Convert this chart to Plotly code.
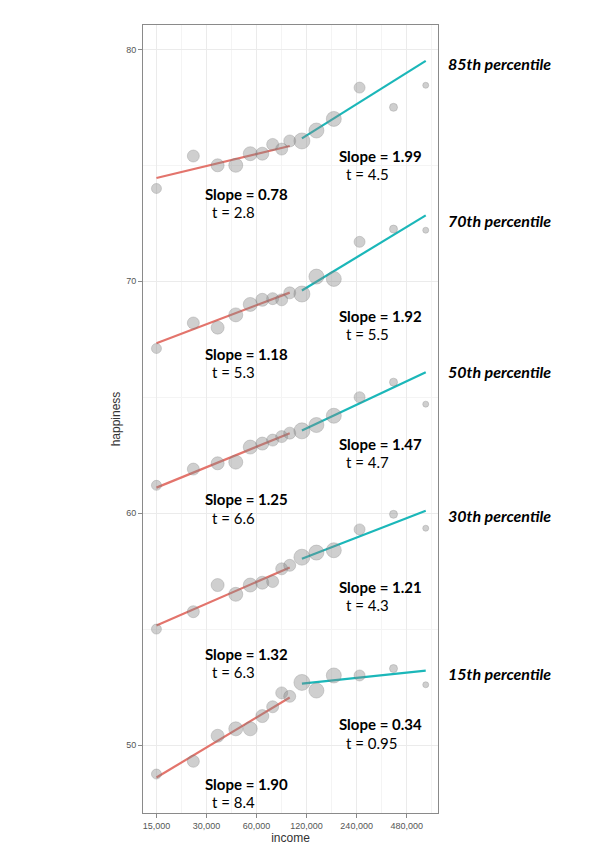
import numpy as np
import plotly.graph_objects as go

# income bins (log scale) and relative number of people per bin
income = [15000, 25000, 35000, 45000, 55000, 65000, 75000, 85000, 95000,
          112500, 137500, 175000, 250000, 400000, 625000]
bin_size = [10, 12, 13, 14, 14, 13, 12, 12, 12, 16, 15, 15, 11, 8, 6]

percentiles = ["85th", "70th", "50th", "30th", "15th"]

# happiness at each income bin, by percentile
happy_85 = [74.0, 75.4, 75.0, 75.0, 75.5, 75.5, 75.9, 75.7, 76.05, 76.05, 76.5, 77.0, 78.35, 77.5, 78.45]
happy_70 = [67.1, 68.2, 68.0, 68.55, 69.0, 69.2, 69.25, 69.2, 69.5, 69.45, 70.2, 70.1, 71.7, 72.25, 72.2]
happy_50 = [61.2, 61.9, 62.15, 62.2, 62.85, 63.0, 63.15, 63.3, 63.45, 63.55, 63.8, 64.2, 65.0, 65.65, 64.7]
happy_30 = [55.0, 55.75, 56.9, 56.5, 56.9, 57.0, 57.05, 57.6, 57.75, 58.1, 58.3, 58.4, 59.3, 59.95, 59.35]
happy_15 = [48.75, 49.3, 50.4, 50.7, 50.7, 51.25, 51.65, 52.25, 52.1, 52.7, 52.35, 53.0, 53.0, 53.3, 52.6]
happy = [happy_85, happy_70, happy_50, happy_30, happy_15]

# fitted segments: below and above ~$100k
low_x = [15000, 95000]
high_x = [112500, 625000]
low_fit = [[74.45, 75.83], [67.33, 69.51], [61.1, 63.45], [55.16, 57.66], [48.6, 52.05]]
high_fit = [[76.16, 79.5], [69.6, 72.84], [63.56, 66.08], [58.03, 60.1], [52.65, 53.21]]

low_slope = ["0.78", "1.18", "1.25", "1.32", "1.90"]
low_t = ["2.8", "5.3", "6.6", "6.3", "8.4"]
high_slope = ["1.99", "1.92", "1.47", "1.21", "0.34"]
high_t = ["4.5", "5.5", "4.7", "4.3", "0.95"]

tick_vals = [15000, 30000, 60000, 120000, 240000, 480000]
tick_text = ["15,000", "30,000", "60,000", "120,000", "240,000", "480,000"]

RED = "#E3746C"
TEAL = "#1BB7B9"

fig = go.Figure()

for i in range(len(percentiles)):
    fig.add_trace(go.Scatter(x=low_x, y=low_fit[i], mode="lines",
                             line=dict(color=RED, width=2.2), showlegend=False))
    fig.add_trace(go.Scatter(x=high_x, y=high_fit[i], mode="lines",
                             line=dict(color=TEAL, width=2.2), showlegend=False))
    fig.add_trace(go.Scatter(
        x=income, y=happy[i], mode="markers", showlegend=False,
        marker=dict(size=bin_size, color="rgba(135,135,135,0.57)",
                    line=dict(color="rgba(105,105,105,0.55)", width=0.7))))

# label positions (income, happiness) relative to each band
low_lab_x, low_t_x = 28400, 31400
high_lab_x, high_t_x = 183000, 201800
low_lab_y = [73.76, 66.87, 60.60, 53.94, 48.33]
high_lab_y = [75.40, 68.50, 62.99, 56.81, 50.90]
pct_lab_y = [79.40, 72.64, 66.09, 59.90, 53.10]
t_drop = 0.79

font_lbl = dict(family="Lato, Noto Sans, sans-serif", size=15, color="black")
annotations = []
for i in range(len(percentiles)):
    annotations += [
        dict(x=np.log10(low_lab_x), y=low_lab_y[i], text=f"<b>Slope = {low_slope[i]}</b>"),
        dict(x=np.log10(low_t_x), y=low_lab_y[i] - t_drop, text=f"t = {low_t[i]}"),
        dict(x=np.log10(high_lab_x), y=high_lab_y[i], text=f"<b>Slope = {high_slope[i]}</b>"),
        dict(x=np.log10(high_t_x), y=high_lab_y[i] - t_drop, text=f"t = {high_t[i]}"),
    ]
for a in annotations:
    a.update(xref="x", yref="y", xanchor="left", yanchor="middle",
             showarrow=False, font=font_lbl)
for i, p in enumerate(percentiles):
    annotations.append(dict(
        x=1.028, y=pct_lab_y[i], xref="paper", yref="y", xanchor="left",
        yanchor="middle", showarrow=False, text=f"<b><i>{p} percentile</i></b>",
        font=dict(font_lbl, size=16)))

axis_common = dict(
    showline=True, mirror=True, linecolor="#8A8A8A", linewidth=1,
    ticks="outside", ticklen=4, tickcolor="#8A8A8A", tickwidth=1,
    showgrid=True, gridcolor="#EBEBEB", gridwidth=1, zeroline=False,
    tickfont=dict(family="Liberation Sans, Arial, sans-serif", size=9, color="#555555"),
    title_font=dict(family="Liberation Sans, Arial, sans-serif", size=12, color="#333333"),
)

# page body keeps its default 8px margin, so size/margins are trimmed by 8
fig.update_layout(
    width=588, height=851,
    margin=dict(l=135, r=158, t=17, b=46),
    plot_bgcolor="white", paper_bgcolor="white",
    annotations=annotations,
    xaxis=dict(axis_common, type="log", range=[np.log10(12450), np.log10(740800)],
               tickvals=tick_vals, ticktext=tick_text, title_text="income",
               title_standoff=2,
               minor=dict(tickvals=[21213, 42426, 84853, 169706, 339411, 678823],
                          showgrid=True, gridcolor="#F4F4F4", gridwidth=0.6, ticks="")),
    yaxis=dict(axis_common, range=[47.07, 81.05], tickvals=[50, 60, 70, 80],
               title_text="happiness", title_standoff=2,
               minor=dict(tickvals=[55, 65, 75], showgrid=True,
                          gridcolor="#F4F4F4", gridwidth=0.6, ticks="")),
)

fig.write_html("out.html", config={"displayModeBar": False})
